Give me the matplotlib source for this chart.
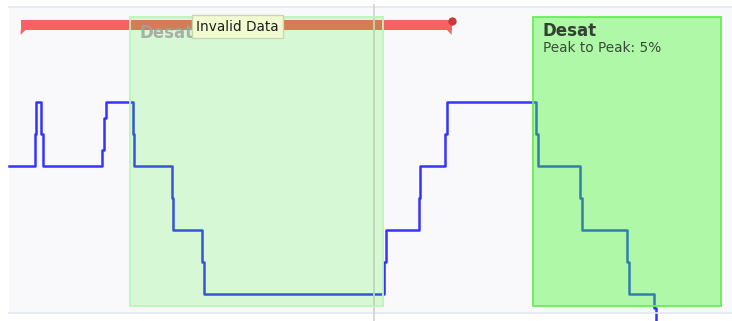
import numpy as np
import matplotlib.pyplot as plt
from matplotlib.patches import Rectangle, Polygon

plt.rcParams['figure.dpi'] = 100

# SpO2 trace, step changes (time in s, value in %)
t_spo2 = [0, 13, 13.5, 16, 17, 46.5, 47.5, 48.5, 62, 62.5, 81.5, 82, 96.5, 97.25,
          187.5, 188.5, 205, 205.5, 218, 219, 263.5, 264.5, 285.5, 286.25,
          309, 310, 322.5, 323.35]
spo2 = [96, 97, 98, 97, 96, 96.5, 97.5, 98, 97, 96, 95, 94, 93, 92,
        93, 94, 95, 96, 97, 98, 97, 96, 95, 94,
        93, 92, 91.55, 89.5]

# desaturation events (start, end) and their labels
desat_start = [60.5, 262]
desat_end = [187, 356]
desat_peak = [None, 5]

# invalid data span
invalid_start = 5.85
invalid_end = 221.35

cursor_t = 182.65

fig = plt.figure(figsize=(7.32, 3.21))
ax = fig.add_axes([9 / 732, 8 / 321, 723 / 732, 306 / 321])
ax.set_facecolor('#f9f9fb')
ax.set_xlim(0, 361.5)
ax.set_ylim(91.406, 100.97)
ax.set_xticks([])
ax.set_yticks([])
for s in ['left', 'right']:
    ax.spines[s].set_visible(False)
for s in ['top', 'bottom']:
    ax.spines[s].set_color('#e2e7f2')
    ax.spines[s].set_linewidth(1.2)

# trace goes off the bottom of the panel, so don't clip it
ax.plot(t_spo2, spo2, drawstyle='steps-post', color='#3434ff', lw=1.8,
        zorder=2, clip_on=False)

# invalid data bar with its end flags
bar_lo, bar_hi = 100.26, 100.57
ax.fill_between([invalid_start, invalid_end], bar_lo, bar_hi, color='#f86262',
                lw=0, zorder=3)
ax.add_patch(Polygon([[invalid_start, bar_lo], [invalid_start, 100.1],
                      [invalid_start + 2.5, bar_lo]], closed=True,
                     color='#f86262', lw=0, zorder=3))
ax.add_patch(Polygon([[invalid_end, bar_lo], [invalid_end, 100.1],
                      [invalid_end - 2.5, bar_lo]], closed=True,
                     color='#f86262', lw=0, zorder=3))
ax.plot([invalid_end], [100.53], 'o', color='#c83a3a', ms=5, zorder=4)

# desat boxes
box_lo, box_hi = 91.62, 100.655
for i, (a, b) in enumerate(zip(desat_start, desat_end)):
    active = desat_peak[i] is not None
    ax.add_patch(Rectangle((a, box_lo), b - a, box_hi - box_lo,
                           facecolor=(52 / 255, 247 / 255, 31 / 255, 0.38 if active else 0.17),
                           edgecolor='#66ee58' if active else '#bdf5b8',
                           lw=1.3, zorder=5))
    if active:
        ax.text(a + 4.8, 100.22, 'Desat', fontsize=12, fontweight='bold',
                color='#344034', va='center', ha='left', zorder=6)
        ax.text(a + 4.8, 99.70, 'Peak to Peak: %d%%' % desat_peak[i], fontsize=9.8,
                color='#3a4a3a', va='center', ha='left', zorder=6)
    else:
        ax.text(a + 4.8, 100.17, 'Desat', fontsize=12, fontweight='bold',
                color='#9ea49e', alpha=0.85, va='center', ha='left', zorder=6)

ax.text((invalid_start + invalid_end) / 2 + 0.5, 100.36, 'Invalid Data', fontsize=9.8,
        color='#1e1e1e', ha='center', va='center', zorder=7,
        bbox=dict(boxstyle='square,pad=0.3', facecolor='#f2fbd0', edgecolor='#c4d8b0', lw=1))

ax.axvline(cursor_t, ymin=-0.03, ymax=1.007, color='#d4d4d4', lw=1.3, zorder=4,
           clip_on=False)

fig.savefig('out.png', dpi=100)
